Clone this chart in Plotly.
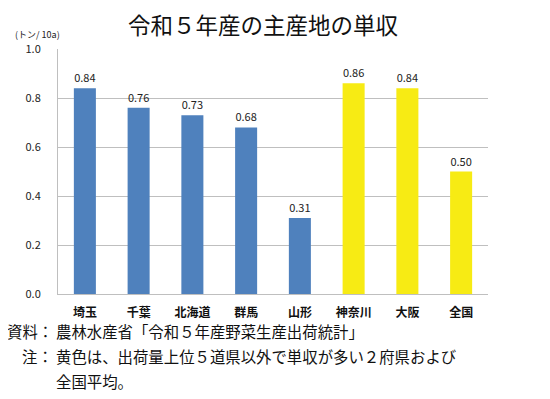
import plotly.graph_objects as go

categories = ["埼玉", "千葉", "北海道", "群馬", "山形", "神奈川", "大阪", "全国"]
values = [0.84, 0.76, 0.73, 0.68, 0.31, 0.86, 0.84, 0.50]
bar_colors = ["#4F81BD"] * 5 + ["#F7EB14"] * 3
y_ticks = [0.0, 0.2, 0.4, 0.6, 0.8, 1.0]
y_tick_labels = ["0.0", "0.2", "0.4", "0.6", "0.8", "1.0"]

title_text = "令和５年産の主産地の単収"
unit_text = "(トン/ 10a)"
note_lines = [
    ("資料：", "農林水産省「令和５年産野菜生産出荷統計」"),
    ("注：", "黄色は、出荷量上位５道県以外で単収が多い２府県および"),
    ("", "全国平均。"),
]

FONT = "Noto Sans CJK JP, Noto Sans, sans-serif"

OFF = 8  # page body margin
W, H = 550 - OFF, 399 - OFF
# target pixel positions in the window
PL, PR, PT, PB = 58, 488, 49, 294
L, T = PL - OFF, PT - OFF
R, B = W - (PR - OFF), H - (PB - OFF)
PW, PH = W - L - R, H - T - B


def px(x):
    return (x - PL) / PW


def py(y):
    return (PB - y) / PH


fig = go.Figure()
fig.add_trace(go.Bar(
    x=categories,
    y=values,
    marker=dict(color=bar_colors, line=dict(width=0)),
    texttemplate="%{y:.2f}",
    textposition="outside",
    textfont=dict(size=11, color="#222222", family=FONT),
    cliponaxis=False,
    hoverinfo="skip",
))

annotations = [
    dict(text=title_text, x=px(263), y=py(23.5), xref="paper", yref="paper",
         showarrow=False, font=dict(size=22.5, color="#111111", family=FONT),
         xanchor="center", yanchor="middle"),
    dict(text=unit_text, x=px(13), y=py(35), xref="paper", yref="paper",
         showarrow=False, font=dict(size=9, color="#222222", family=FONT),
         xanchor="left", yanchor="middle"),
]
line_y = [331, 356, 381]
for (head, body), yy in zip(note_lines, line_y):
    if head:
        annotations.append(dict(text=head, x=px(55), y=py(yy), xref="paper", yref="paper",
                                showarrow=False, font=dict(size=15.4, color="#111111", family=FONT),
                                xanchor="right", yanchor="middle"))
    annotations.append(dict(text=body, x=px(54), y=py(yy), xref="paper", yref="paper",
                            showarrow=False, font=dict(size=15.4, color="#111111", family=FONT),
                            xanchor="left", yanchor="middle"))

fig.update_layout(
    width=W, height=H,
    margin=dict(l=L, r=R, t=T, b=B, pad=0),
    paper_bgcolor="white",
    plot_bgcolor="white",
    showlegend=False,
    bargap=0.59,
    font=dict(family=FONT),
    annotations=annotations,
)
fig.update_xaxes(
    showline=True, linecolor="#BFBFBF", linewidth=1,
    showgrid=False, ticks="",
    tickfont=dict(size=12, color="#111111", family=FONT, weight="bold"),
    ticklabelstandoff=8,
    fixedrange=True,
)
fig.update_yaxes(
    range=[0, 1.0],
    tickvals=y_ticks, ticktext=y_tick_labels,
    showline=True, linecolor="#BFBFBF", linewidth=1,
    showgrid=True, gridcolor="#BFBFBF", gridwidth=1,
    zeroline=False, ticks="",
    tickfont=dict(size=11, color="#222222", family=FONT),
    ticklabelstandoff=14,
    fixedrange=True,
)

fig.write_html("out.html", config={"displayModeBar": False})
